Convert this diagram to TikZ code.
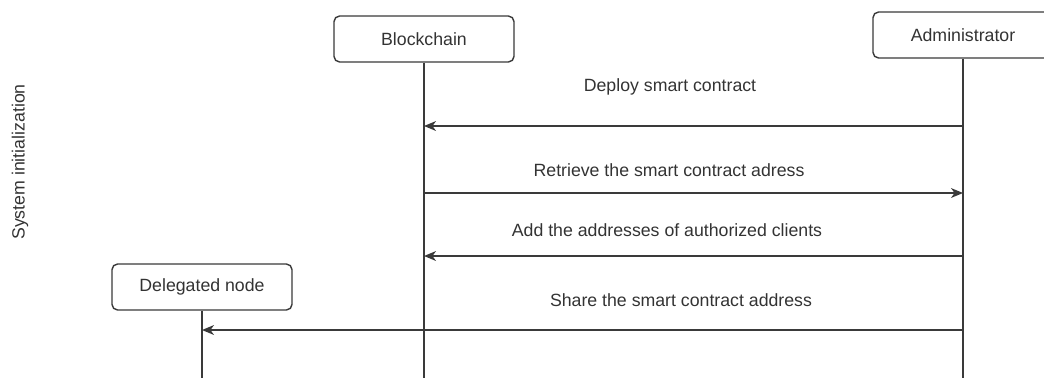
\documentclass[tikz,border=0pt]{standalone}
\usepackage{fontspec}
\setmainfont{Liberation Sans}
\usetikzlibrary{arrows.meta}

\definecolor{linegray}{HTML}{3A3A3A}
\definecolor{textgray}{HTML}{333333}

\begin{document}
\begin{tikzpicture}[x=0.025cm, y=-0.025cm,
	actor/.style={draw=linegray, line width=1pt, rounded corners=4pt, fill=white,
		minimum width=4.5cm, minimum height=1.15cm, text=textgray,
		font=\fontsize{12.6}{15}\selectfont},
	lifeline/.style={draw=linegray, line width=1pt},
	msg/.style={draw=linegray, line width=1pt,
		-{Stealth[length=8.5pt, width=7pt, inset=2.5pt]}},
	lbl/.style={text=textgray, font=\fontsize{12.6}{15}\selectfont, inner sep=0pt}]
\clip (0, 0) rectangle (1044, 378);

% actors
\node[actor] (bc) at (424, 39) {Blockchain};
\node[actor] (adm) at (963, 35) {Administrator};
\node[actor] (del) at (202, 287) {Delegated node};

% lifelines
\coordinate (bcEnd) at (424, 378);
\coordinate (admEnd) at (963, 378);
\coordinate (delEnd) at (202, 378);
\draw[lifeline] (bc) -- (bcEnd);
\draw[lifeline] (adm) -- (admEnd);
\draw[lifeline] (del) -- (delEnd);

% phase
\node[lbl, rotate=90] (phase) at (20, 162) {System initialization};

% messages
\draw[msg] (adm |- 0, 126) -- (bc |- 0, 126);
\node[lbl] (m1) at (670, 87) {Deploy smart contract};

\draw[msg] (bc |- 0, 193) -- (adm |- 0, 193);
\node[lbl] (m2) at (669, 170) {Retrieve the smart contract adress};

\draw[msg] (adm |- 0, 256) -- (bc |- 0, 256);
\node[lbl] (m3) at (667, 230) {Add the addresses of authorized clients};

\draw[msg] (adm |- 0, 330) -- (del |- 0, 330);
\node[lbl] (m4) at (681, 300) {Share the smart contract address};
\end{tikzpicture}
\end{document}
